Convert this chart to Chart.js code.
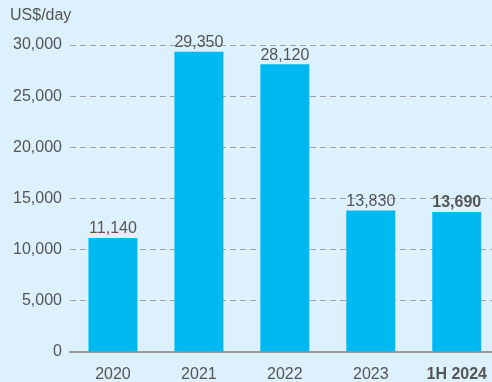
<!DOCTYPE html>
<html>
<head>
<meta charset="utf-8">
<script src="https://cdn.jsdelivr.net/npm/chart.js@4.4.1/dist/chart.umd.min.js"></script>
<style>
  html, body { margin: 0; padding: 0; background: #dcf1fc; overflow: hidden; }
  #wrap { width: 500px; height: 382px; }
</style>
</head>
<body>
<div id="wrap"><canvas id="rateChart" width="500" height="382"></canvas></div>
<script>
// 데이터
const categories = ['2020', '2021', '2022', '2023', '1H 2024'];
const dailyRates = [11140, 29350, 28120, 13830, 13690];
const yTicks = [0, 5000, 10000, 15000, 20000, 25000, 30000];

const textColor = '#555555';
const fontFamily = '"Liberation Sans", Arial, sans-serif';
const fmt = v => v.toLocaleString('en-US');

// 막대 위 값 표시 + 단위 텍스트
const labelPlugin = {
    id: 'labelPlugin',
    afterDatasetsDraw(chart) {
        const c = chart.ctx;
        const meta = chart.getDatasetMeta(0);
        c.save();
        c.fillStyle = textColor;
        c.textAlign = 'center';
        c.textBaseline = 'middle';
        meta.data.forEach((bar, i) => {
            const last = i === categories.length - 1;
            c.font = (last ? 'bold ' : '') + '16px ' + fontFamily;
            c.fillText(fmt(dailyRates[i]), bar.x, bar.y - 9);
        });
        c.textAlign = 'left';
        c.font = '16px ' + fontFamily;
        c.fillText('US$/day', 10, 16);
        c.restore();
    }
};

const ctx = document.getElementById('rateChart').getContext('2d');
const rateChart = new Chart(ctx, {
    type: 'bar',
    data: {
        labels: categories,
        datasets: [{
            data: dailyRates,
            backgroundColor: '#00b9f0',
            borderWidth: 0,
            categoryPercentage: 1.0,
            barPercentage: 0.57
        }]
    },
    options: {
        responsive: false,
        animation: false,
        layout: { padding: { top: 45, right: 0, left: 0, bottom: 0 } },
        plugins: {
            legend: { display: false },
            tooltip: { enabled: false }
        },
        scales: {
            x: {
                grid: { display: false, drawTicks: false },
                border: { display: true, color: '#9a9a9a', width: 2 },
                ticks: {
                    color: textColor,
                    padding: 13,
                    font: ctx => ({
                        family: fontFamily,
                        size: 16,
                        weight: ctx.index === categories.length - 1 ? 'bold' : 'normal'
                    })
                },
                afterFit(scale) { scale.height = 30; }
            },
            y: {
                min: 0,
                max: 30000,
                afterBuildTicks(scale) { scale.ticks = yTicks.map(v => ({ value: v })); },
                grid: {
                    drawTicks: false,
                    color: ctx => ctx.tick && ctx.tick.value === 0 ? 'rgba(0,0,0,0)' : '#a0a0a0',
                    lineWidth: 1
                },
                border: { display: false, dash: [6, 4] },
                ticks: {
                    color: textColor,
                    padding: 8,
                    font: { family: fontFamily, size: 16 },
                    callback: v => fmt(v)
                },
                afterFit(scale) { scale.width = 70; }
            }
        }
    },
    plugins: [labelPlugin]
});
</script>
</body>
</html>
